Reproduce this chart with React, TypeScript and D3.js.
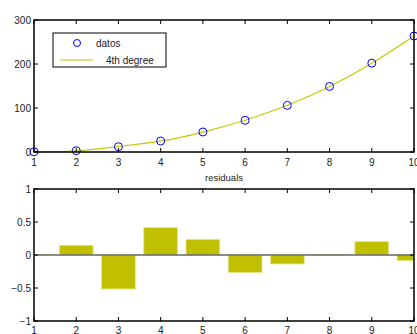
import React from "react";
import * as d3 from "d3";

const xs = [1, 2, 3, 4, 5, 6, 7, 8, 9, 10];
const datos = [0.5, 3, 12, 25, 45.5, 72, 106, 149, 202, 263.6];
const residuals = [0.01, 0.147, -0.515, 0.415, 0.238, -0.267, -0.136, 0.005, 0.203, -0.085];
const topYTicks = [0, 100, 200, 300];
const botYTicks = [-1, -0.5, 0, 0.5, 1];
const botYLabels = ["\u22121", "\u22120.5", "0", "0.5", "1"];

const W = 417, H = 334;
const L = 34, R = 414;
const font = "Liberation Sans, Arial, sans-serif";

export default function App() {
  const x = d3.scaleLinear().domain([1, 10]).range([L, R]);
  const yTop = d3.scaleLinear().domain([0, 300]).range([152, 20]);
  const yBot = d3.scaleLinear().domain([-1, 1]).range([321, 189]);
  const fitted = datos.map((d, i) => d - residuals[i]);
  const line = d3.line<number>().x((_, i) => x(xs[i])).y((d) => yTop(d)).curve(d3.curveNatural);
  const bw = (x(2) - x(1)) * 0.8;
  const tickLen = 4;

  const frame = (top: number, bottom: number) => (
    <rect x={L} y={top} width={R - L} height={bottom - top} fill="none" stroke="#000" strokeWidth={1.5} />
  );

  return (
    <svg width={W} height={H} style={{ position: "absolute", left: 0, top: 0 }} fontFamily={font}>
      <rect width={W} height={H} fill="#fff" />
      {/* top plot */}
      <defs>
        <clipPath id="cTop"><rect x={L} y={20} width={R - L} height={132} /></clipPath>
        <clipPath id="cBot"><rect x={L} y={189} width={R - L} height={132} /></clipPath>
      </defs>
      <path d={line(fitted) || ""} fill="none" stroke="#c8c800" strokeWidth={1.2} clipPath="url(#cTop)" />
      {datos.map((d, i) => (
        <circle key={i} cx={x(xs[i])} cy={yTop(d)} r={4} fill="none" stroke="#0000ff" strokeWidth={1} />
      ))}
      {frame(20, 152)}
      {xs.map((v) => (
        <g key={"tx" + v}>
          <line x1={x(v)} x2={x(v)} y1={152} y2={152 - tickLen} stroke="#000" />
          <line x1={x(v)} x2={x(v)} y1={20} y2={20 + tickLen} stroke="#000" />
          <text x={x(v)} y={166} fontSize={10} textAnchor="middle" fill="#222">{v}</text>
        </g>
      ))}
      {topYTicks.map((v) => (
        <g key={"ty" + v}>
          <line x1={L} x2={L + tickLen} y1={yTop(v)} y2={yTop(v)} stroke="#000" />
          <line x1={R} x2={R - tickLen} y1={yTop(v)} y2={yTop(v)} stroke="#000" />
          <text x={L - 3} y={yTop(v) + 3.5} fontSize={10} textAnchor="end" fill="#222">{v}</text>
        </g>
      ))}
      {/* legend */}
      <rect x={53} y={33} width={113} height={34} fill="#fff" stroke="#000" strokeWidth={1} />
      <circle cx={77} cy={43} r={3.5} fill="none" stroke="#0000ff" strokeWidth={1} />
      <text x={96} y={46.5} fontSize={10} fill="#222">datos</text>
      <line x1={60} x2={93} y1={60} y2={60} stroke="#c8c800" strokeWidth={1.2} />
      <text x={106} y={63.5} fontSize={10} fill="#222">4th degree</text>
      <text x={224} y={181} fontSize={9.5} textAnchor="middle" fill="#222">residuals</text>

      {/* bottom plot */}
      <g clipPath="url(#cBot)">
        {residuals.map((r, i) => (
          <rect key={i} x={x(xs[i]) - bw / 2} width={bw}
            y={Math.min(yBot(r), yBot(0))} height={Math.abs(yBot(r) - yBot(0))}
            fill="#c0c000" stroke="#e8e890" strokeWidth={0.8} />
        ))}
      </g>
      <line x1={L} x2={R} y1={yBot(0)} y2={yBot(0)} stroke="#666" strokeWidth={1.5} />
      {frame(189, 321)}
      {xs.map((v) => (
        <g key={"bx" + v}>
          <line x1={x(v)} x2={x(v)} y1={321} y2={321 - tickLen} stroke="#000" />
          <line x1={x(v)} x2={x(v)} y1={189} y2={189 + tickLen} stroke="#000" />
          <text x={x(v)} y={334} fontSize={10} textAnchor="middle" fill="#222">{v}</text>
        </g>
      ))}
      {botYTicks.map((v, i) => (
        <g key={"by" + v}>
          <line x1={L} x2={L + tickLen} y1={yBot(v)} y2={yBot(v)} stroke="#000" />
          <line x1={R} x2={R - tickLen} y1={yBot(v)} y2={yBot(v)} stroke="#000" />
          <text x={L - 3} y={yBot(v) + 3.5} fontSize={10} textAnchor="end" fill="#222">{botYLabels[i]}</text>
        </g>
      ))}
    </svg>
  );
}
